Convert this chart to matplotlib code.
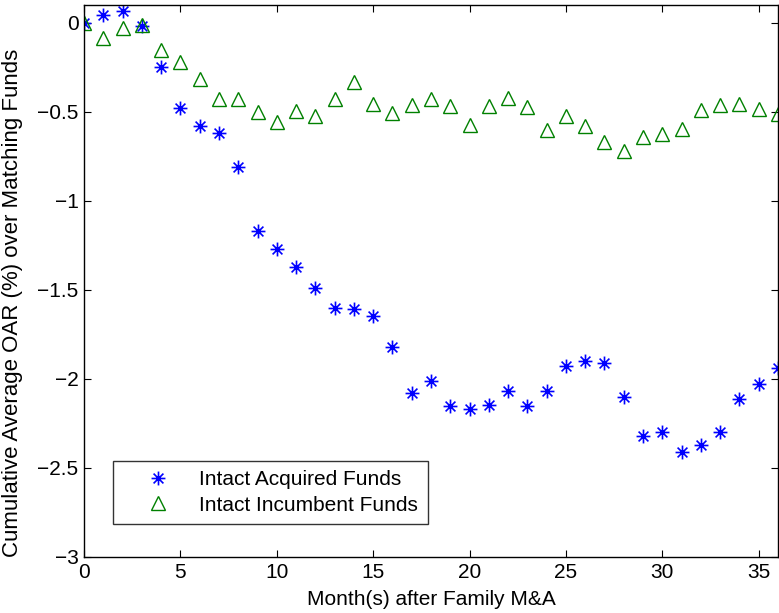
import matplotlib
matplotlib.use("Agg")
import matplotlib.pyplot as plt
from matplotlib.path import Path

months = list(range(0, 37))
acquired = [0.0, 0.045, 0.067, -0.017, -0.25, -0.48, -0.577, -0.62, -0.81,
            -1.172, -1.268, -1.369, -1.49, -1.60, -1.605, -1.646, -1.818,
            -2.08, -2.01, -2.15, -2.17, -2.146, -2.066, -2.15, -2.066,
            -1.93, -1.90, -1.91, -2.10, -2.32, -2.296, -2.408, -2.37,
            -2.30, -2.114, -2.028, -1.94]
incumbent = [0.0, -0.083, -0.027, -0.011, -0.152, -0.219, -0.313, -0.43,
             -0.43, -0.50, -0.559, -0.495, -0.526, -0.427, -0.334, -0.456,
             -0.506, -0.46, -0.427, -0.466, -0.576, -0.47, -0.42, -0.475,
             -0.604, -0.522, -0.577, -0.667, -0.72, -0.639, -0.626, -0.596,
             -0.49, -0.461, -0.456, -0.485, -0.51]
series_labels = ["Intact Acquired Funds", "Intact Incumbent Funds"]
xticks = [0, 5, 10, 15, 20, 25, 30, 35]
yticks = [0, -0.5, -1, -1.5, -2, -2.5, -3]
ytick_labels = ['0', '\u22120.5', '\u22121', '\u22121.5', '\u22122', '\u22122.5', '\u22123']

plt.rcParams['font.family'] = ['Liberation Sans', 'DejaVu Sans']

# MATLAB-style asterisk: + and x combined
d = 0.7071
verts = [(-1, 0), (1, 0), (0, -1), (0, 1), (-d, -d), (d, d), (-d, d), (d, -d)]
codes = [Path.MOVETO, Path.LINETO] * 4
star = Path(verts, codes)

fig = plt.figure(figsize=(7.79, 6.13), dpi=100)
ax = fig.add_axes([84 / 779, 1 - 557 / 613, (778 - 84) / 779, (557 - 5) / 613])

ax.plot(months, acquired, linestyle='none', marker=star, markersize=10,
        markeredgecolor='#0000ff', markerfacecolor='none', markeredgewidth=1.2,
        label=series_labels[0])
ax.plot(months, incumbent, linestyle='none', marker='^', markersize=10.5,
        markeredgecolor='#008000', markerfacecolor='none', markeredgewidth=1.0,
        label=series_labels[1])

ax.set_xlim(0, 36)
ax.set_ylim(-3, 0.1)
ax.set_xticks(xticks)
ax.set_yticks(yticks)
ax.set_yticklabels(ytick_labels)
ax.tick_params(direction='in', length=5, labelsize=15, top=True, right=True, width=0.8)
ax.tick_params(axis='x', pad=4)
ax.tick_params(axis='y', pad=4)
for s in ax.spines.values():
    s.set_linewidth(1.0)

ax.set_xlabel('Month(s) after Family M&A', fontsize=15)
ax.xaxis.set_label_coords(0.5, (557 - 590) / 552)
ax.set_ylabel('Cumulative Average OAR (%) over Matching Funds', fontsize=16)
ax.yaxis.set_label_coords((13 - 84) / 694, (557 - 303) / 552)
ax.yaxis.label.set_verticalalignment('center')

leg = ax.legend(loc='lower left', bbox_to_anchor=((113 - 84) / 694, (557 - 524) / 552),
                fontsize=15, frameon=True, fancybox=False, edgecolor='black',
                borderpad=0.45, handlelength=3.4, handletextpad=0.3, labelspacing=0.32,
                borderaxespad=0)
leg.get_frame().set_linewidth(1.0)

fig.savefig('out.png', dpi=100)
